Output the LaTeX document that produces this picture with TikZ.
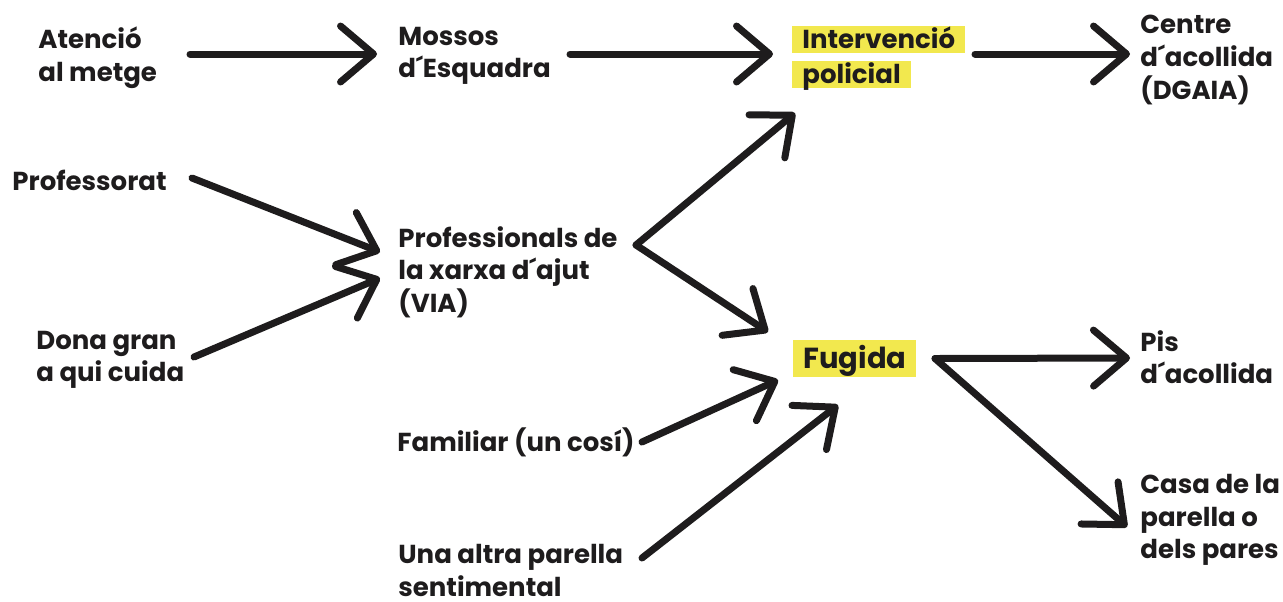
\documentclass[tikz,border=0pt]{standalone}
\usepackage{fontspec}
\setmainfont{Poppins}
\usetikzlibrary{arrows.meta}
\definecolor{ink}{HTML}{1E1C1D}
\definecolor{hl}{HTML}{F2E84E}
\begin{document}
\begin{tikzpicture}[x=0.5pt,y=-0.5pt,
  lbl/.style={anchor=west, inner sep=0pt, align=left, font=\bfseries\fontsize{13}{16.3}\selectfont, text=ink},
  hlbox/.style={lbl, fill=hl, inner xsep=5pt, inner ysep=0pt, minimum height=13.5pt, text height=9.2pt, text depth=0pt},
  arr/.style={draw=ink, line width=3.5pt, line cap=round, line join=round, -{Straight Barb[length=16.5pt, width=28pt, line width=3.5pt, round]}}]
\useasboundingbox (0,0) rectangle (1283,601);
\node[lbl] (aten) at (38,58) {Atenció\\al metge};
\node[lbl] (mossos) at (398,56) {Mossos\\d´Esquadra};
\node[hlbox] (iv1) at (792,39.5) {Intervenció};
\node[hlbox] (iv2) at (792,74.5) {policial};
\node[lbl] (centre) at (1140,60) {Centre\\d´acollida\\(DGAIA)};
\node[lbl] (prof) at (12,180) {Professorat};
\node[lbl] (dona) at (36,360) {Dona gran\\a qui cuida};
\node[lbl] (pxa) at (398,272) {Professionals de\\la xarxa d´ajut\\(VIA)};
\node[hlbox, minimum height=18.5pt, font=\bfseries\fontsize{14.5}{18}\selectfont, text height=10.2pt] (fug) at (793,358.5) {Fugida};
\node[lbl] (pis) at (1140,357) {Pis\\d´acollida};
\node[lbl] (casa) at (1140,520) {Casa de la\\parella o\\dels pares};
\node[lbl] (fam) at (397,442) {Familiar (un cosí)};
\node[lbl, anchor=south west] (una) at (398,597) {Una altra parella\\sentimental};
\draw[arr] ([shift={(152,-4)}]aten.west) -- ([shift={(-21,-2)}]mossos.west);
\draw[arr] ([shift={(172,-2)}]mossos.west) -- ([shift={(-19,14.5)}]iv1.west);
\draw[arr] ([shift={(183,14.5)}]iv1.west) -- ([shift={(-10,-6)}]centre.west);
\draw[arr] ([shift={(180,-2)}]prof.west) -- ([shift={(-18,-20)}]pxa.west);
\draw[arr] ([shift={(158,-3)}]dona.west) -- ([shift={(-18,6)}]pxa.west);
\draw[arr] ([shift={(238,-27)}]pxa.west) -- ([shift={(3,38.5)}]iv2.west);
\draw[arr] ([shift={(238,-27)}]pxa.west) -- ([shift={(-25,-26.5)}]fug.west);
\draw[arr] ([shift={(245,0)}]fam.west) -- ([shift={(-15,21.5)}]fug.west);
\draw[arr] ([shift={(244,-39)}]una.south west) -- ([shift={(45,46.5)}]fug.west);
\draw[arr] ([shift={(142,0)}]fug.west) -- ([shift={(-10,1)}]pis.west);
\draw[arr] ([shift={(142,0)}]fug.west) -- ([shift={(-13,7)}]casa.west);
\end{tikzpicture}
\end{document}
